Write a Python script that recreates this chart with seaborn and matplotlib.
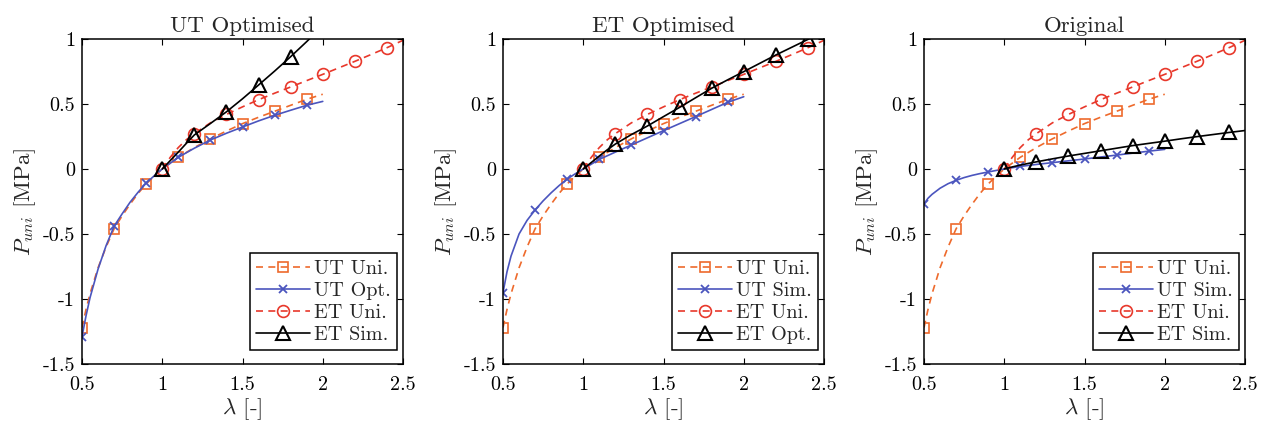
import numpy as np
import pandas as pd
import matplotlib
matplotlib.use("Agg")
import matplotlib.pyplot as plt
import seaborn as sns

# ---------------- data ----------------
lam_ut = [0.5, 0.525, 0.55, 0.6, 0.65, 0.7, 0.75, 0.8, 0.85, 0.9, 0.95, 1.0,
          1.1, 1.2, 1.3, 1.4, 1.5, 1.6, 1.7, 1.8, 1.9, 2.0]
lam_et = [1.0, 1.05, 1.1, 1.15, 1.2, 1.3, 1.4, 1.5, 1.6, 1.7, 1.8, 1.9, 2.0,
          2.1, 2.2, 2.3, 2.4, 2.5]
ut_marks = [0.5, 0.7, 0.9, 1.1, 1.3, 1.5, 1.7, 1.9]
et_marks = [1.0, 1.2, 1.4, 1.6, 1.8, 2.0, 2.2, 2.4]

ut_uni = [-1.22, -1.08, -0.96, -0.76, -0.60, -0.46, -0.36, -0.27, -0.187, -0.115,
          -0.055, 0.0, 0.09, 0.165, 0.232, 0.292, 0.349, 0.398, 0.444, 0.49,
          0.536, 0.575]
et_uni = [0.0, 0.09, 0.165, 0.225, 0.272, 0.355, 0.42, 0.478, 0.533, 0.583,
          0.631, 0.68, 0.728, 0.778, 0.828, 0.88, 0.933, 0.99]

ut_opt_p1 = [-1.29, -1.13, -0.99, -0.77, -0.59, -0.44, -0.345, -0.255, -0.178,
             -0.108, -0.052, 0.0, 0.09, 0.16, 0.223, 0.275, 0.323, 0.37, 0.413,
             0.452, 0.49, 0.52]
et_sim_p1 = [0.0, 0.065, 0.13, 0.197, 0.262, 0.35, 0.44, 0.54, 0.646, 0.753,
             0.864, 0.98, 1.1, 1.22, 1.34, 1.47, 1.6, 1.73]

ut_sim_p2 = [-0.951, -0.79, -0.67, -0.50, -0.395, -0.315, -0.245, -0.183, -0.127,
             -0.077, -0.037, 0.0, 0.074, 0.13, 0.185, 0.24, 0.295, 0.349, 0.403,
             0.458, 0.513, 0.556]
et_opt_p2 = [0.0, 0.05, 0.1, 0.148, 0.192, 0.265, 0.331, 0.403, 0.474, 0.548,
             0.621, 0.686, 0.749, 0.813, 0.877, 0.937, 0.997, 1.057]

ut_sim_p3 = [-0.269, -0.225, -0.195, -0.148, -0.113, -0.087, -0.066, -0.049,
             -0.035, -0.023, -0.011, 0.0, 0.02, 0.035, 0.049, 0.063, 0.077,
             0.092, 0.107, 0.122, 0.137, 0.151]
et_sim_p3 = [0.0, 0.016, 0.03, 0.043, 0.055, 0.078, 0.1, 0.12, 0.14, 0.16, 0.18,
             0.197, 0.214, 0.232, 0.249, 0.265, 0.281, 0.296]

titles = ["UT Optimised", "ET Optimised", "Original"]
legend_labels = [
    ["UT Uni.", "UT Opt.", "ET Uni.", "ET Sim."],
    ["UT Uni.", "UT Sim.", "ET Uni.", "ET Opt."],
    ["UT Uni.", "UT Sim.", "ET Uni.", "ET Sim."],
]
xticks = [0.5, 1.0, 1.5, 2.0, 2.5]
xtick_labels = ["0.5", "1", "1.5", "2", "2.5"]
yticks = [-1.5, -1.0, -0.5, 0.0, 0.5, 1.0]
ytick_labels = ["-1.5", "-1", "-0.5", "0", "0.5", "1"]

panels = [
    (ut_uni, ut_opt_p1, et_uni, et_sim_p1),
    (ut_uni, ut_sim_p2, et_uni, et_opt_p2),
    (ut_uni, ut_sim_p3, et_uni, et_sim_p3),
]

# ---------------- style ----------------
sns.set_theme(style="white")
plt.rcParams["font.family"] = ["cmr10", "DejaVu Serif"]
plt.rcParams["mathtext.fontset"] = "cm"
plt.rcParams["axes.unicode_minus"] = False
plt.rcParams["axes.formatter.use_mathtext"] = True

C_ORANGE = "#EE6A2C"
C_BLUE = "#4B55BE"
C_RED = "#E8382B"
C_BLACK = "#000000"

def mark_idx(lams, marks):
    lams = np.asarray(lams)
    return [int(np.argmin(np.abs(lams - m))) for m in marks]

fig = plt.figure(figsize=(12.64, 4.28), dpi=100)
lefts = [82 / 1264, 503 / 1264, 924 / 1264]
W = 321 / 1264
B = (428 - 364) / 428
H = 325 / 428

for i, (uu, us, eu, es) in enumerate(panels):
    ax = fig.add_axes([lefts[i], B, W, H])
    labs = legend_labels[i]
    dash = (0, (4.2, 3.2))
    sns.lineplot(x=lam_ut, y=uu, ax=ax, sort=False, color=C_ORANGE, lw=1.2,
                 linestyle=dash, marker="s", markersize=7, markerfacecolor="none",
                 markeredgecolor=C_ORANGE, markeredgewidth=1.2,
                 markevery=mark_idx(lam_ut, ut_marks), label=labs[0])
    sns.lineplot(x=lam_ut, y=us, ax=ax, sort=False, color=C_BLUE, lw=1.2,
                 linestyle="-", marker="x", markersize=5.5,
                 markeredgecolor=C_BLUE, markeredgewidth=1.3,
                 markevery=mark_idx(lam_ut, ut_marks), label=labs[1])
    sns.lineplot(x=lam_et, y=eu, ax=ax, sort=False, color=C_RED, lw=1.2,
                 linestyle=dash, marker="o", markersize=8.5, markerfacecolor="none",
                 markeredgecolor=C_RED, markeredgewidth=1.2,
                 markevery=mark_idx(lam_et, et_marks), label=labs[2])
    sns.lineplot(x=lam_et, y=es, ax=ax, sort=False, color=C_BLACK, lw=1.2,
                 linestyle="-", marker="^", markersize=10, markerfacecolor="none",
                 markeredgecolor=C_BLACK, markeredgewidth=1.5,
                 markevery=mark_idx(lam_et, et_marks), label=labs[3])

    ax.set_xlim(0.5, 2.5)
    ax.set_ylim(-1.5, 1.0)
    ax.set_xticks(xticks)
    ax.set_xticklabels(xtick_labels)
    ax.set_yticks(yticks)
    ax.set_yticklabels(ytick_labels)
    ax.tick_params(direction="in", length=4, width=0.8, top=True, right=True,
                   bottom=True, left=True, labelsize=14.5, colors="black")
    ax.tick_params(axis="x", pad=9)
    ax.tick_params(axis="y", pad=5)
    for s in ax.spines.values():
        s.set_color("black")
        s.set_linewidth(1.1)
    ax.set_title(titles[i], fontsize=16.5, pad=5)
    ax.set_xlabel(r"$\lambda$ [-]", fontsize=16.5, labelpad=1)
    ax.set_ylabel(r"$P_{uni}$ [MPa]", fontsize=16.5, labelpad=3)
    leg = ax.legend(loc="lower right", bbox_to_anchor=(0.981, 0.043),
                    fontsize=14.5, frameon=True, fancybox=False,
                    edgecolor="black", framealpha=1, borderpad=0.3,
                    labelspacing=0.2, handlelength=2.7, handletextpad=0.2,
                    borderaxespad=0.0)
    leg.get_frame().set_linewidth(1.1)

fig.savefig("out.png", dpi=100)
